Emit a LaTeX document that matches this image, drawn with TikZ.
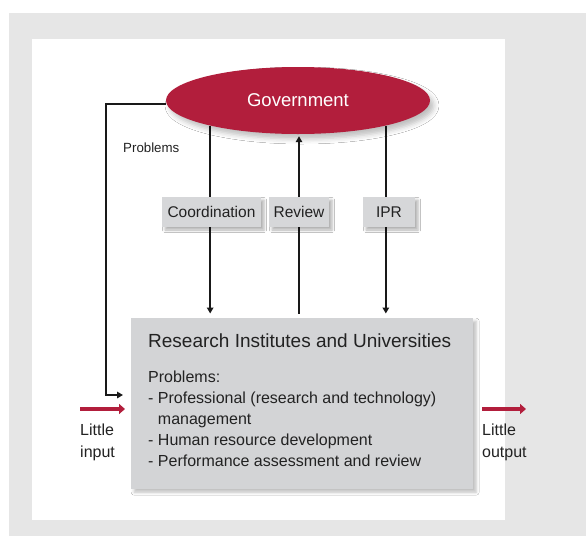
\documentclass[tikz,border=0pt]{standalone}
\usepackage{fontspec}
\setmainfont{Liberation Sans}
\usetikzlibrary{shapes.geometric,arrows.meta,shadows.blur,backgrounds}
\definecolor{govred}{RGB}{178,30,60}
\definecolor{outergray}{RGB}{230,230,230}
\definecolor{boxgray}{RGB}{211,212,214}
\definecolor{lblgray}{RGB}{214,215,217}
\definecolor{txt}{RGB}{34,34,34}
\tikzset{
  govstyle/.style={ellipse, fill=govred, minimum width=264pt, minimum height=67pt, inner sep=0pt,
    text=white, font=\fontsize{18.5}{22}\selectfont,
    blur shadow={shadow xshift=4pt, shadow yshift=-5pt, shadow blur radius=5pt, shadow opacity=25}},
  lblbox/.style={fill=lblgray, minimum height=30pt, inner sep=0pt, text=txt,
    font=\fontsize{15.5}{18}\selectfont,
    blur shadow={shadow xshift=3pt, shadow yshift=-3pt, shadow blur radius=2.5pt, shadow opacity=30}},
  mainbox/.style={fill=boxgray, minimum width=342pt, minimum height=171pt, inner sep=0pt,
    blur shadow={shadow xshift=3pt, shadow yshift=-3pt, shadow blur radius=3pt, shadow opacity=25}},
  conn/.style={line width=1.6pt, draw=black!90},
  arr/.style={conn, -{Triangle[length=6pt,width=6.5pt]}},
  redarr/.style={draw=govred, line width=3.8pt, -{Triangle[length=6pt,width=10pt]}},
  plain/.style={text=txt, inner sep=0pt, align=left},
}
\begin{document}
\begin{tikzpicture}[x=1pt,y=-1pt]
\useasboundingbox (0,0) rectangle (586,536);

% nodes
\node[govstyle] (gov) at (298,100.5) {Government};
\node[mainbox, anchor=north west] (rb) at (131,318) {};
\node[plain, anchor=base west, font=\fontsize{19}{22}\selectfont] (title) at (148,347)
  {Research Institutes and Universities};
\node[plain, anchor=base west, font=\fontsize{16}{21}\selectfont] (body) at (148,466)
  {Problems:\\- Professional (research and technology)\\\phantom{- }management\\- Human resource development\\- Performance assessment and review};

\node[lblbox, minimum width=99pt] (coord) at (211.5,212) {Coordination};
\node[lblbox, minimum width=60pt] (rev) at (299,212) {Review};
\node[lblbox, minimum width=52pt] (ipr) at (389,212) {IPR};

\node[plain, anchor=base west, font=\fontsize{13.3}{16}\selectfont] (prob) at (123,152) {Problems};
\node[plain, anchor=base west, font=\fontsize{16}{22}\selectfont] (lin) at (80,457) {Little\\input};
\node[plain, anchor=base west, font=\fontsize{16}{22}\selectfont] (lout) at (482,457) {Little\\output};

\coordinate (inA) at (80,409);
\coordinate (inB) at (125,409);
\coordinate (outA) at (482,409);
\coordinate (outB) at (526,409);
\coordinate (fbend) at (106,395);

% backgrounds and connectors passing behind the label boxes
\begin{scope}[on background layer]
\fill[outergray] (9,13) rectangle (586,536);
\fill[white] (32,39) rectangle (505,520);
\draw[arr, shorten >=4.5pt] (gov.196.3) -- (gov.196.3 |- rb.north);
\draw[arr, shorten >=4.5pt] (gov.344.9) -- (gov.344.9 |- rb.north);
\draw[arr, shorten <=4.5pt, shorten >=2pt] (rev.center |- rb.north) -- (rev.center |- gov.south);
\end{scope}
\draw[arr] ([yshift=-3.5pt]gov.west) -| (fbend) -- ([xshift=-8pt]rb.west |- fbend);
\draw[redarr] (inA) -- (inB);
\draw[redarr] (outA) -- (outB);
\end{tikzpicture}
\end{document}
